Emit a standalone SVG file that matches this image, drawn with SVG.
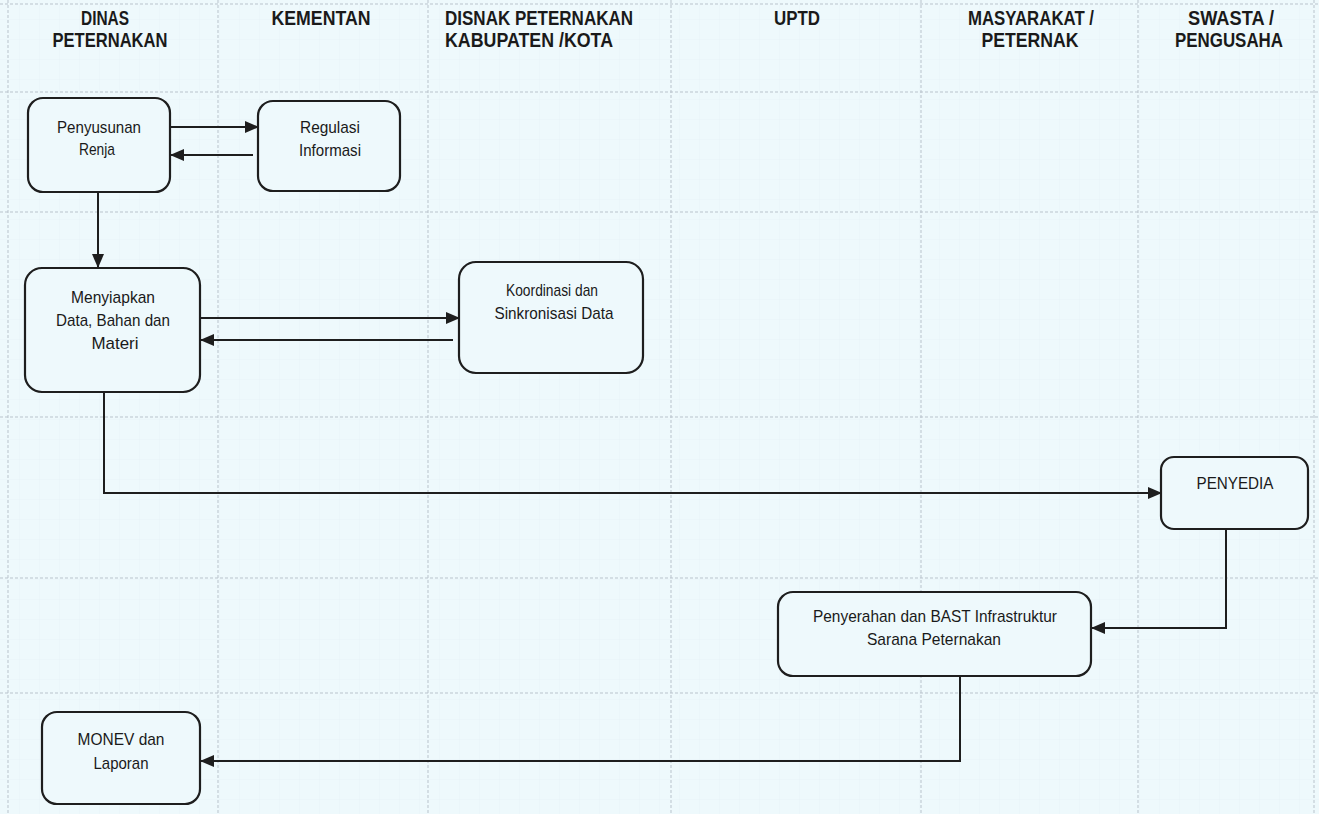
<svg xmlns="http://www.w3.org/2000/svg" width="1319" height="814" viewBox="0 0 1319 814">
<defs>
<marker id="ah" markerWidth="14" markerHeight="12" refX="13" refY="6" orient="auto" markerUnits="userSpaceOnUse" viewBox="0 0 14 12">
<path d="M0,0 L14,6 L0,12 z" fill="#1e1e1e"/>
</marker>
<pattern id="minor" width="20" height="20" patternUnits="userSpaceOnUse">
<path d="M20,0 V20 M0,20 H20" fill="none" stroke="#dfe9ee" stroke-width="0.6"/>
</pattern>
</defs>
<style>
.bg{fill:#eef9fc}
.grid{stroke:#b9c3cc;stroke-width:1;stroke-dasharray:3 2;fill:none}
.hdr{font-family:"Liberation Sans Narrow","Liberation Sans",Arial,sans-serif;font-weight:bold;font-size:20px;fill:#1a1a1a;text-anchor:middle}
.box{fill:#eef9fc;stroke:#1e1e1e;stroke-width:2.2}
.lbl{font-family:"Liberation Sans Narrow","Liberation Sans",Arial,sans-serif;font-size:17px;fill:#1a1a1a;text-anchor:middle}
.con{fill:none;stroke:#1e1e1e;stroke-width:2;marker-end:url(#ah)}
</style>
<rect class="bg" x="0" y="0" width="1319" height="814"/>
<rect x="0" y="0" width="1319" height="814" fill="url(#minor)" opacity="0.6"/>
<g id="grid">
<path class="grid" d="M218,0 V814 M428,0 V814 M671,0 V814 M921,0 V814 M1138,0 V814 M8,0 V814 M1314,0 V814"/>
<path class="grid" d="M0,92 H1319 M0,212 H1319 M0,417 H1319 M0,578 H1319 M0,693 H1319 M0,4 H1319"/>
</g>
<g id="headers">
<text class="hdr" x="105" y="25" textLength="48" lengthAdjust="spacingAndGlyphs">DINAS</text>
<text class="hdr" x="110" y="47" textLength="115" lengthAdjust="spacingAndGlyphs">PETERNAKAN</text>
<text class="hdr" x="321" y="25" textLength="99" lengthAdjust="spacingAndGlyphs">KEMENTAN</text>
<text class="hdr" x="539" y="25" textLength="188" lengthAdjust="spacingAndGlyphs">DISNAK PETERNAKAN</text>
<text class="hdr" x="529" y="47" textLength="168" lengthAdjust="spacingAndGlyphs">KABUPATEN /KOTA</text>
<text class="hdr" x="797" y="25" textLength="46" lengthAdjust="spacingAndGlyphs">UPTD</text>
<text class="hdr" x="1031" y="25" textLength="126" lengthAdjust="spacingAndGlyphs">MASYARAKAT /</text>
<text class="hdr" x="1030" y="47" textLength="97" lengthAdjust="spacingAndGlyphs">PETERNAK</text>
<text class="hdr" x="1231" y="25" textLength="86" lengthAdjust="spacingAndGlyphs">SWASTA /</text>
<text class="hdr" x="1229" y="47" textLength="108" lengthAdjust="spacingAndGlyphs">PENGUSAHA</text>
</g>
<g id="connectors">
<path class="con" d="M170,127 H258"/>
<path class="con" d="M253,155 H171"/>
<path class="con" d="M98,192 V267"/>
<path class="con" d="M200,318 H459"/>
<path class="con" d="M453,340 H201"/>
<path class="con" d="M104,392 V493 H1161"/>
<path class="con" d="M1226,529 V628 H1092"/>
<path class="con" d="M960,676 V761 H201"/>
</g>
<g id="n-penyusunan">
<rect class="box" x="28" y="98" width="142" height="94" rx="15"/>
<text class="lbl" x="99" y="133" textLength="84" lengthAdjust="spacingAndGlyphs">Penyusunan</text>
<text class="lbl" x="97" y="155" textLength="36" lengthAdjust="spacingAndGlyphs">Renja</text>
</g>
<g id="n-regulasi">
<rect class="box" x="258" y="101" width="142" height="90" rx="15"/>
<text class="lbl" x="330" y="133" textLength="60" lengthAdjust="spacingAndGlyphs">Regulasi</text>
<text class="lbl" x="330" y="156" textLength="62" lengthAdjust="spacingAndGlyphs">Informasi</text>
</g>
<g id="n-menyiapkan">
<rect class="box" x="25" y="268" width="175" height="124" rx="17"/>
<text class="lbl" x="113" y="303" textLength="84" lengthAdjust="spacingAndGlyphs">Menyiapkan</text>
<text class="lbl" x="113" y="326" textLength="114" lengthAdjust="spacingAndGlyphs">Data, Bahan dan</text>
<text class="lbl" x="115" y="349" textLength="47" lengthAdjust="spacingAndGlyphs">Materi</text>
</g>
<g id="n-koordinasi">
<rect class="box" x="459" y="262" width="184" height="111" rx="17"/>
<text class="lbl" x="552" y="296" textLength="92" lengthAdjust="spacingAndGlyphs">Koordinasi dan</text>
<text class="lbl" x="554" y="319" textLength="119" lengthAdjust="spacingAndGlyphs">Sinkronisasi Data</text>
</g>
<g id="n-penyedia">
<rect class="box" x="1161" y="457" width="147" height="72" rx="13"/>
<text class="lbl" x="1235" y="489" textLength="77" lengthAdjust="spacingAndGlyphs">PENYEDIA</text>
</g>
<g id="n-penyerahan">
<rect class="box" x="778" y="592" width="313" height="84" rx="15"/>
<text class="lbl" x="935" y="622" textLength="244" lengthAdjust="spacingAndGlyphs">Penyerahan dan BAST Infrastruktur</text>
<text class="lbl" x="934" y="645" textLength="134" lengthAdjust="spacingAndGlyphs">Sarana Peternakan</text>
</g>
<g id="n-monev">
<rect class="box" x="42" y="712" width="158" height="92" rx="15"/>
<text class="lbl" x="121" y="745" textLength="87" lengthAdjust="spacingAndGlyphs">MONEV dan</text>
<text class="lbl" x="121" y="769" textLength="55" lengthAdjust="spacingAndGlyphs">Laporan</text>
</g>
</svg>
